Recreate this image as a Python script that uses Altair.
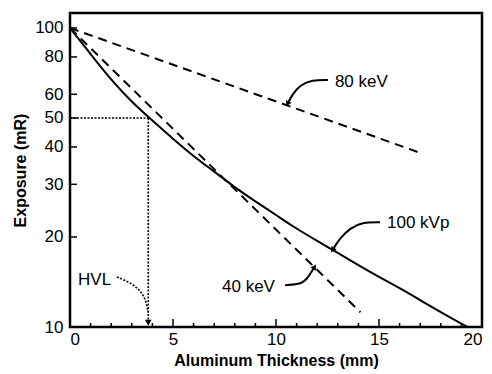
import altair as alt
import pandas as pd

# ---- data ----
kvp_x = [0, 1, 2, 3, 4, 5, 6, 7, 8, 9, 10, 11, 12, 13, 14, 15, 16, 17, 18, 19, 19.3]
kvp_y = [100, 81.8, 67, 56.5, 49, 42.6, 37.2, 33.1, 29.3, 26.3, 23.7, 21.3, 19.4, 17.7, 16.1, 14.7, 13.5, 12.3, 11.2, 10.25, 10.0]

kev80_x = [0, 17.1]
kev80_y = [100, 38]
kev40_x = [0, 14.1]
kev40_y = [100, 11.2]

hvl_x = 3.8
hvl_y = 50

y_ticks = [10, 20, 30, 40, 50, 60, 80, 100]
x_ticks = [0, 5, 10, 15, 20]
x_minor = [1, 2, 3, 4, 6, 7, 8, 9, 11, 12, 13, 14, 16, 17, 18, 19]
y_inner_ticks = [20, 30, 40, 50, 60, 80, 100]

label_text = ["80 keV", "100 kVp", "40 keV", "HVL"]
label_x = [12.86, 15.39, 7.38, 0.39]
label_y = [65.9, 22.3, 13.6, 14.4]

# leader curves (id, x, y)
lead_id = ["80"] * 5 + ["100"] * 5 + ["40"] * 4
lead_x = [12.52, 11.75, 11.17, 10.78, 10.58,
          15.05, 14.17, 13.6, 13.1, 12.77,
          10.44, 11.26, 11.55, 11.85]
lead_y = [67.0, 67.0, 64.5, 59.7, 56.1,
          22.4, 22.4, 21.4, 19.8, 18.2,
          13.8, 13.9, 14.6, 15.8]
hvl_lead_x = [2.28, 2.91, 3.4, 3.69, 3.79]
hvl_lead_y = [14.7, 14.1, 13.3, 12.3, 11.2]

arrow_x = [10.58, 12.77, 11.85]
arrow_y = [56.1, 18.2, 15.8]
arrow_angle = [207, 215, 32]

FONT = "Liberation Sans"
W, H = 412, 314

xs = alt.Scale(domain=[0, 20], nice=False)
ys = alt.Scale(type="log", domain=[10, 112.2], nice=False)

kvp = pd.DataFrame({"x": kvp_x, "y": kvp_y})
k80 = pd.DataFrame({"x": kev80_x, "y": kev80_y})
k40 = pd.DataFrame({"x": kev40_x, "y": kev40_y})

X = alt.X("x:Q", scale=xs, axis=alt.Axis(values=x_ticks, ticks=False, domain=False, grid=False,
                                         labelFont=FONT, labelFontSize=17, labelColor="black",
                                         labelPadding=4, title="Aluminum Thickness (mm)",
                                         titleFont=FONT, titleFontSize=16, titleFontWeight="bold",
                                         titleColor="black", titlePadding=5))
Y = alt.Y("y:Q", scale=ys, axis=alt.Axis(values=y_ticks, ticks=False, domain=False, grid=False,
                                         format="d", labelFont=FONT, labelFontSize=17,
                                         labelColor="black", labelPadding=7,
                                         title="Exposure (mR)", titleFont=FONT, titleFontSize=16,
                                         titleFontWeight="bold", titleColor="black", titlePadding=6))

base_kvp = alt.Chart(kvp).mark_line(color="black", strokeWidth=2, interpolate="basis").encode(x=X, y=Y)

dash = [9, 6]
line80 = alt.Chart(k80).mark_line(color="black", strokeWidth=2, strokeDash=dash).encode(
    x=alt.X("x:Q", scale=xs), y=alt.Y("y:Q", scale=ys))
line40 = alt.Chart(k40).mark_line(color="black", strokeWidth=2, strokeDash=dash).encode(
    x=alt.X("x:Q", scale=xs), y=alt.Y("y:Q", scale=ys))

hvl_h = alt.Chart(pd.DataFrame({"x": [0, hvl_x], "y": [hvl_y, hvl_y]})).mark_line(
    color="black", strokeWidth=1.6, strokeDash=[2, 1.5]).encode(
    x=alt.X("x:Q", scale=xs), y=alt.Y("y:Q", scale=ys))
hvl_v = alt.Chart(pd.DataFrame({"x": [hvl_x, hvl_x], "y": [hvl_y, 10.5]})).mark_line(
    color="black", strokeWidth=1.6, strokeDash=[2, 1.5]).encode(
    x=alt.X("x:Q", scale=xs), y=alt.Y("y:Q", scale=ys))
hvl_arrow = alt.Chart(pd.DataFrame({"x": [hvl_x], "y": [10.35]})).mark_point(
    shape="triangle-down", filled=True, color="black", size=45, opacity=1).encode(
    x=alt.X("x:Q", scale=xs), y=alt.Y("y:Q", scale=ys))

leads = pd.DataFrame({"id": lead_id, "x": lead_x, "y": lead_y, "i": list(range(len(lead_x)))})
lead_lines = alt.Chart(leads).mark_line(color="black", strokeWidth=2, interpolate="basis").encode(
    x=alt.X("x:Q", scale=xs), y=alt.Y("y:Q", scale=ys), detail="id:N", order="i:Q")

hvl_lead = pd.DataFrame({"x": hvl_lead_x, "y": hvl_lead_y, "i": list(range(len(hvl_lead_x)))})
hvl_lead_line = alt.Chart(hvl_lead).mark_line(color="black", strokeWidth=1.6, strokeDash=[2, 1.5],
                                              interpolate="basis").encode(
    x=alt.X("x:Q", scale=xs), y=alt.Y("y:Q", scale=ys), order="i:Q")

arrows = pd.DataFrame({"x": arrow_x, "y": arrow_y, "a": arrow_angle})
arrow_pts = alt.Chart(arrows).mark_point(shape="triangle", filled=True, color="black",
                                         size=40, opacity=1).encode(
    x=alt.X("x:Q", scale=xs), y=alt.Y("y:Q", scale=ys), angle=alt.Angle("a:Q", scale=None))

labels = pd.DataFrame({"t": label_text, "x": label_x, "y": label_y})
label_marks = alt.Chart(labels).mark_text(align="left", baseline="middle", font=FONT,
                                          fontSize=17, color="black").encode(
    x=alt.X("x:Q", scale=xs), y=alt.Y("y:Q", scale=ys), text="t:N")

# inward ticks
ytk = alt.Chart(pd.DataFrame({"y": y_inner_ticks})).mark_rule(color="black", strokeWidth=1.5).encode(
    y=alt.Y("y:Q", scale=ys), x=alt.value(0), x2=alt.value(7))
xtk_major = alt.Chart(pd.DataFrame({"x": [5, 10, 15]})).mark_rule(color="black", strokeWidth=1.5).encode(
    x=alt.X("x:Q", scale=xs), y=alt.value(H), y2=alt.value(H - 8))
xtk_minor = alt.Chart(pd.DataFrame({"x": x_minor})).mark_rule(color="black", strokeWidth=1.5).encode(
    x=alt.X("x:Q", scale=xs), y=alt.value(H), y2=alt.value(H - 4))

chart = alt.layer(
    base_kvp, line80, line40, hvl_h, hvl_v, hvl_arrow, lead_lines, hvl_lead_line,
    arrow_pts, label_marks, ytk, xtk_major, xtk_minor
).properties(
    width=W, height=H,
    background="white",
    autosize=alt.AutoSizeParams(type="none"),
    padding={"left": 70, "top": 13, "right": 10, "bottom": 47},
).configure_view(stroke="black", strokeWidth=2.5)

chart.save("out.html", embed_options={"renderer": "svg", "actions": False})
